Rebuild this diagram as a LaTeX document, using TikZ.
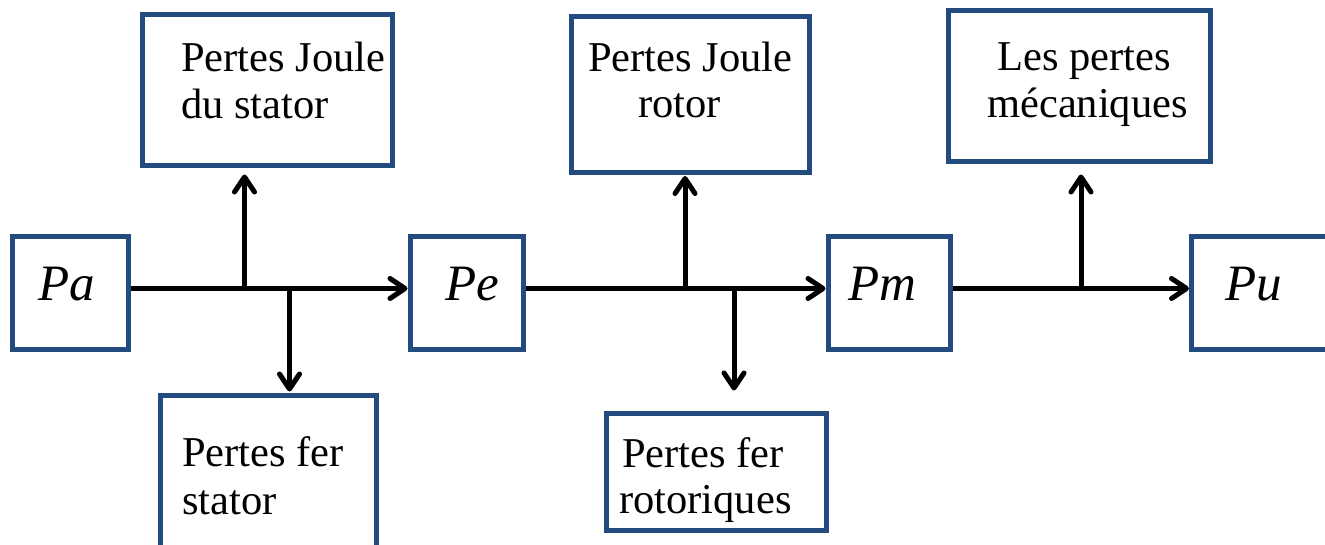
\documentclass[tikz,border=0pt]{standalone}
\usepackage{fontspec}
\setmainfont{Liberation Serif}
\usetikzlibrary{arrows.meta}
\definecolor{boxblue}{RGB}{35,75,128}
\tikzset{
  box/.style={draw=boxblue, line width=5pt, inner sep=0pt, rectangle},
  lbl/.style={anchor=base west, inner sep=0pt, font=\fontsize{42.5}{48}\selectfont},
  pwr/.style={anchor=base west, inner sep=0pt, font=\fontsize{51}{58}\selectfont\itshape},
  flow/.style={line width=5pt, -{Straight Barb[length=15pt,width=20pt,round]}}
}
\begin{document}
\begin{tikzpicture}[x=1pt,y=-1pt]
\useasboundingbox (0,0) rectangle (1325,545);

% power boxes
\node[box, minimum width=116pt, minimum height=113pt] (Pa) at (70.5,293) {};
\node[box, minimum width=113.5pt, minimum height=112.5pt] (Pe) at (466.75,292.75) {};
\node[box, minimum width=122pt, minimum height=113pt] (Pm) at (889,293) {};
\node[box, minimum width=146pt, minimum height=113pt] (Pu) at (1264.5,293) {};

\node[pwr] (tPa) at (38,301) {Pa};
\node[pwr] (tPe) at (445,301) {Pe};
\node[pwr] (tPm) at (848,301) {Pm};
\node[pwr] (tPu) at (1225,301) {Pu};

% loss boxes
\node[box, minimum width=250pt, minimum height=151pt] (JS) at (267.5,90) {};
\node[box, minimum width=216pt, minimum height=165pt] (FS) at (268,478) {};
\node[box, minimum width=238pt, minimum height=156pt] (JR) at (690,95) {};
\node[box, minimum width=219.3pt, minimum height=117pt] (FR) at (716.35,471.5) {};
\node[box, minimum width=262.5pt, minimum height=151pt] (LM) at (1079.25,86.5) {};

\node[lbl] (tJS1) at (181,72) {Pertes Joule};
\node[lbl] (tJS2) at (181,119) {du stator};
\node[lbl] (tFS1) at (182,466) {Pertes fer};
\node[lbl] (tFS2) at (182,514) {stator};
\node[lbl] (tJR1) at (588,72) {Pertes Joule};
\node[lbl] (tJR2) at (638,118) {rotor};
\node[lbl] (tFR1) at (622,467) {Pertes fer};
\node[lbl] (tFR2) at (619,513) {rotoriques};
\node[lbl] (tLM1) at (997,71) {Les pertes};
\node[lbl] (tLM2) at (987,118) {mécaniques};

% junctions on the main power line
\coordinate (j1) at (244.5,288.5);
\coordinate (j2) at (289.5,288.5);
\coordinate (j3) at (685,288.5);
\coordinate (j4) at (734,288.5);
\coordinate (j5) at (1081,288.5);

% main power flow
\draw[flow] (Pa.east |- j1) -- (Pe.west |- j1);
\draw[flow] (Pe.east |- j1) -- (Pm.west |- j1);
\draw[flow] (Pm.east |- j1) -- (Pu.west |- j1);

% loss branches
\draw[flow, shorten >=6.5pt] (j1) -- (j1 |- JS.south);
\draw[flow, shorten >=1.5pt] (j2) -- (j2 |- FS.north);
\draw[flow, shorten >=0.5pt] (j3) -- (j3 |- JR.south);
\draw[flow, shorten >=20pt] (j4) -- (j4 |- FR.north);
\draw[flow, shorten >=10pt] (j5) -- (j5 |- LM.south);
\end{tikzpicture}
\end{document}
